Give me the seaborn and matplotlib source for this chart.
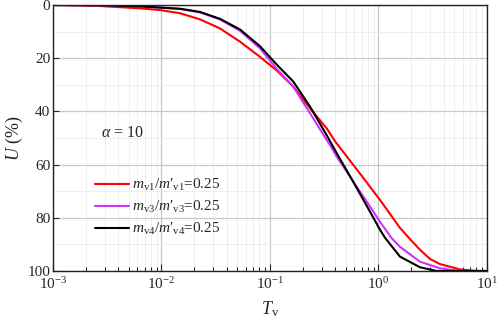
import numpy as np
import pandas as pd
import matplotlib
matplotlib.use("Agg")
import matplotlib.pyplot as plt
import seaborn as sns
from matplotlib.ticker import LogLocator, FixedLocator, NullFormatter

# ---- data ----
red_logT = [-3.0, -2.6, -2.198, -2.014, -1.829, -1.645, -1.461, -1.276, -1.092, -0.938,
            -0.785, -0.631, -0.477, -0.401, -0.263, -0.140, 0.014, 0.198, 0.290, 0.382,
            0.475, 0.567, 0.751, 0.9, 1.0]
red_U = [0.0, 0.3, 1.25, 1.9, 3.1, 5.4, 8.8, 13.8, 19.5, 24.6,
         30.7, 38.8, 46.4, 51.2, 58.5, 65.0, 73.3, 83.8, 88.0, 92.0,
         95.5, 97.4, 99.4, 100.0, 100.0]

mag_logT = [-3.0, -2.6, -2.198, -1.829, -1.645, -1.461, -1.276, -1.092, -0.938, -0.785,
            -0.631, -0.477, -0.447, -0.385, -0.263, -0.078, 0.014, 0.122, 0.198, 0.382,
            0.567, 0.751, 1.0]
mag_U = [0.0, 0.1, 0.5, 1.5, 2.8, 5.4, 9.7, 16.3, 24.0, 30.7,
         40.7, 50.8, 52.6, 57.0, 64.5, 75.8, 81.5, 87.7, 90.9, 96.5,
         99.0, 100.0, 100.0]

blk_logT = [-3.0, -2.6, -2.198, -1.829, -1.645, -1.461, -1.276, -1.092, -0.938, -0.785,
            -0.631, -0.477, -0.370, -0.263, -0.078, 0.014, 0.060, 0.198, 0.382,
            0.536, 1.0]
blk_U = [0.0, 0.1, 0.5, 1.4, 2.6, 5.2, 9.2, 15.5, 22.4, 28.8,
         38.2, 49.0, 56.8, 64.3, 77.7, 84.5, 87.5, 94.6, 98.6,
         100.0, 100.0]

labels = [r"$m_{\mathrm{v1}}/m$′$_{\mathrm{v1}}$=0.25",
          r"$m_{\mathrm{v3}}/m$′$_{\mathrm{v3}}$=0.25",
          r"$m_{\mathrm{v4}}/m$′$_{\mathrm{v4}}$=0.25"]
colors = ["#ff0000", "#cc33ff", "#000000"]
xticks = [1e-3, 1e-2, 1e-1, 1e0, 1e1]
xticklabels = [r"10$^{-3}$", r"10$^{-2}$", r"10$^{-1}$", r"10$^{0}$", r"10$^{1}$"]
yticks = [0, 20, 40, 60, 80, 100]

frames = []
for lt, u, lab in zip([red_logT, mag_logT, blk_logT], [red_U, mag_U, blk_U], labels):
    frames.append(pd.DataFrame({"T": 10 ** np.array(lt), "U": u, "series": lab}))
df = pd.concat(frames, ignore_index=True)

sns.set_style("white")
plt.rcParams["font.family"] = ["Liberation Serif", "DejaVu Serif"]
plt.rcParams["mathtext.fontset"] = "custom"
plt.rcParams["mathtext.rm"] = "Liberation Serif"
plt.rcParams["mathtext.it"] = "Liberation Serif:italic"
plt.rcParams["mathtext.bf"] = "Liberation Serif:bold"

fig = plt.figure(figsize=(4.98, 3.27), dpi=100)
ax = fig.add_axes([0.1064, 0.1713, 0.8715, 0.8134])

sns.lineplot(data=df, x="T", y="U", hue="series", palette=colors, hue_order=labels,
             ax=ax, linewidth=1.5, estimator=None, sort=False)
for ln in ax.get_lines():
    ln.set_solid_joinstyle("round")

ax.set_xscale("log")
ax.set_xlim(1e-3, 1e1)
ax.set_ylim(100, 0)
ax.set_xticks(xticks)
ax.set_xticklabels(xticklabels)
ax.xaxis.set_minor_locator(LogLocator(base=10, subs=np.arange(2, 10), numticks=20))
ax.xaxis.set_minor_formatter(NullFormatter())
ax.set_yticks(yticks)
ax.yaxis.set_minor_locator(FixedLocator([10, 30, 50, 70, 90]))

ax.grid(which="major", color="#c8c8c8", linewidth=0.9)
ax.grid(which="minor", color="#ebebeb", linewidth=0.6)
ax.tick_params(axis="x", which="major", direction="in", length=5, width=0.8,
               labelsize=11, pad=4, bottom=True, top=False)
ax.tick_params(axis="x", which="minor", direction="in", length=3, width=0.8,
               bottom=True, top=False)
ax.tick_params(axis="y", which="major", direction="in", length=4, width=0.8,
               labelsize=11, pad=2, left=True, right=False)
ax.tick_params(axis="y", which="minor", left=False, right=False)
for s in ax.spines.values():
    s.set_color("#222222")
    s.set_linewidth(1.0)

ax.set_xlabel(r"$T_{\mathrm{v}}$", fontsize=13, labelpad=5)
ax.set_ylabel(r"$U$ (%)", fontsize=13, labelpad=2)

ax.text(0.11, 0.52, r"$\alpha$ = 10", transform=ax.transAxes, fontsize=11.5,
        ha="left", va="center")

leg = ax.legend(loc="center left", bbox_to_anchor=(0.065, 0.24), frameon=False,
                fontsize=11, handlelength=2.2, handletextpad=0.25, labelspacing=0.4)
for line in leg.get_lines():
    line.set_linewidth(1.5)

fig.savefig("out.png", dpi=100)
